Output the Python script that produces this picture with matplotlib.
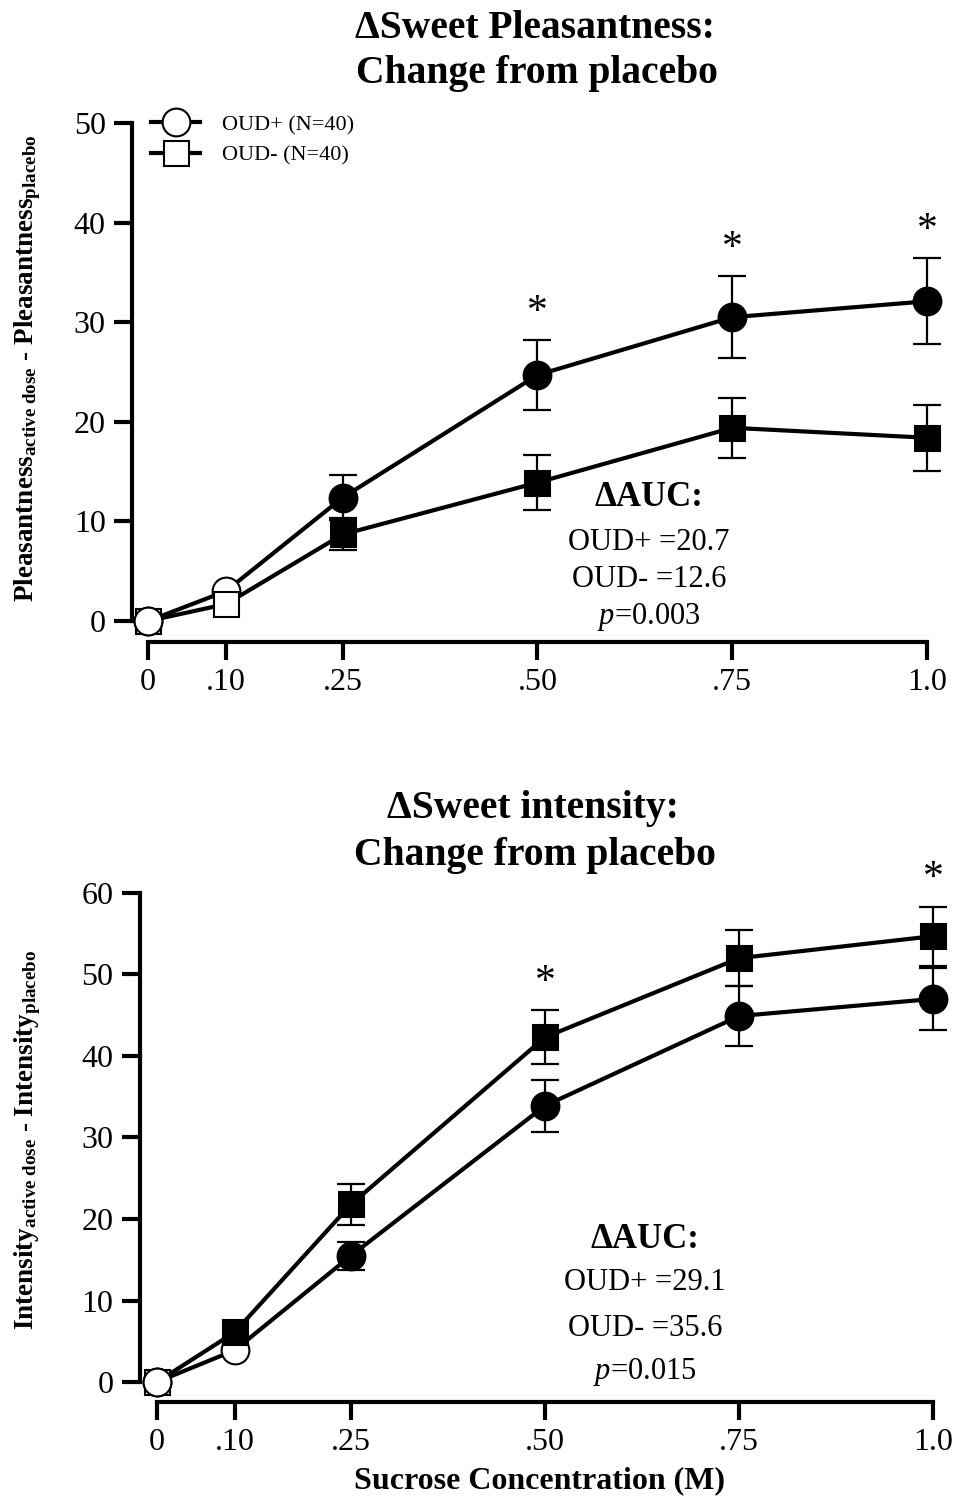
import numpy as np
import matplotlib
matplotlib.use("Agg")
from matplotlib import pyplot as plt
from matplotlib.lines import Line2D

plt.rcParams['font.family'] = ['Liberation Serif', 'DejaVu Serif']
plt.rcParams['mathtext.fontset'] = 'custom'
plt.rcParams['mathtext.rm'] = 'Liberation Serif'
plt.rcParams['mathtext.bf'] = 'Liberation Serif:bold'
plt.rcParams['mathtext.it'] = 'Liberation Serif:italic'

### DATA

conc = [0, 0.10, 0.25, 0.50, 0.75, 1.0]
conc_labels = ['0', '.10', '.25', '.50', '.75', '1.0']

# Sweet pleasantness (change from placebo)
pleas_pos = [0, 3.0, 12.4, 24.7, 30.5, 32.1]
pleas_pos_err = [0, 0, 2.3, 3.5, 4.1, 4.3]
pleas_pos_open = 2      # first points drawn as open symbols
pleas_neg = [0, 1.7, 8.7, 13.9, 19.4, 18.4]
pleas_neg_err = [0, 0, 1.6, 2.8, 3.0, 3.3]
pleas_neg_open = 2
pleas_star = [0.50, 0.75, 1.0]
pleas_auc = ['20.7', '12.6', '0.003']

# Sweet intensity (change from placebo)
inten_pos = [0, 3.9, 15.5, 33.9, 44.9, 47.0]
inten_pos_err = [0, 0, 1.7, 3.2, 3.7, 3.8]
inten_pos_open = 2
inten_neg = [0, 6.1, 21.8, 42.3, 52.0, 54.7]
inten_neg_err = [0, 0, 2.5, 3.3, 3.4, 3.6]
inten_neg_open = 1
inten_star = [0.50, 1.0]
inten_auc = ['29.1', '35.6', '0.015']


def draw_group(ax, y, err, n_open, marker, ms, z):
    x = np.array(conc)
    y = np.array(y)
    err = np.array(err)
    has = err > 0   # no bars where the error is too small to show
    ax.errorbar(x[has], y[has], yerr=err[has], fmt='none', ecolor='black', elinewidth=1.6,
                capsize=10, capthick=1.6, zorder=z)
    ax.plot(x, y, '-', color='black', lw=3, zorder=z + 0.1)
    ax.plot(x[:n_open], y[:n_open], marker, ms=ms, mfc='white', mec='black',
            mew=1.5, ls='none', zorder=z + 0.2)
    ax.plot(x[n_open:], y[n_open:], marker, ms=ms, mfc='black', mec='black',
            mew=1.5, ls='none', zorder=z + 0.2)


def draw_panel(ax, pos, pos_err, pos_open, neg, neg_err, neg_open, ymax, ystep,
               stars, star_series, star_err):
    draw_group(ax, neg, neg_err, neg_open, 's', 18, 3)
    draw_group(ax, pos, pos_err, pos_open, 'o', 20, 2)
    # circle at origin lies over the square
    ax.plot(conc[0], pos[0], 'o', ms=20, mfc='white', mec='black', mew=1.5, zorder=6)

    for s in stars:
        i = conc.index(s)
        ax.annotate('*', (s, star_series[i] + star_err[i]), xytext=(0, 20),
                    textcoords='offset points', ha='center', va='center', fontsize=30)

    for side in ['top', 'right']:
        ax.spines[side].set_visible(False)
    for side in ['left', 'bottom']:
        ax.spines[side].set_linewidth(3)
    ax.spines['left'].set_bounds(0, ymax)
    ax.spines['bottom'].set_bounds(0, 1.0)
    ax.set_yticks(np.arange(0, ymax + 1, ystep))
    ax.set_xticks(conc)
    ax.set_xticklabels(conc_labels)
    ax.tick_params(width=3, length=13, labelsize=23, pad=6)


fig = plt.figure(figsize=(9.56, 15.07), dpi=100)

### PLEASANTNESS

ax1 = fig.add_axes([0.1381, 0.5740, 0.8556, 0.3530])
draw_panel(ax1, pleas_pos, pleas_pos_err, pleas_pos_open,
           pleas_neg, pleas_neg_err, pleas_neg_open, 50, 10,
           pleas_star, pleas_pos, pleas_pos_err)
ax1.set_xlim(-0.0205, 1.0295)
ax1.set_ylim(-2.1, 51.3)
fig.text(28 / 956, 1 - 368 / 1507,
         r'Pleasantness$_{\mathbf{active\ dose}}$ - Pleasantness$_{\mathbf{placebo}}$',
         rotation=90, ha='center', va='center', fontsize=19.5, fontweight='bold')

handles = [Line2D([], [], color='black', lw=3, marker='o', ms=20, mfc='white', mec='black', mew=1.5),
           Line2D([], [], color='black', lw=3, marker='s', ms=18, mfc='white', mec='black', mew=1.5)]
ax1.legend(handles, ['OUD+ (N=40)', 'OUD- (N=40)'], loc='center left',
           bbox_to_anchor=(140 / 956, 1 - 140 / 1507), bbox_transform=fig.transFigure,
           frameon=False, fontsize=16, handlelength=2.2, labelspacing=0.45,
           handletextpad=1.0, borderpad=0)

fig.text(535 / 956, 1 - 28 / 1507, 'ΔSweet Pleasantness:', ha='center', va='center',
         fontsize=28.5, fontweight='bold')
fig.text(537 / 956, 1 - 73 / 1507, 'Change from placebo', ha='center', va='center',
         fontsize=28.5, fontweight='bold')

fig.text(649 / 956, 1 - 497 / 1507, 'ΔAUC:', ha='center', va='center', fontsize=25, fontweight='bold')
fig.text(649 / 956, 1 - 543 / 1507, 'OUD+ =' + pleas_auc[0], ha='center', va='center', fontsize=22)
fig.text(649 / 956, 1 - 580 / 1507, 'OUD- =' + pleas_auc[1], ha='center', va='center', fontsize=22)
fig.text(649 / 956, 1 - 617 / 1507, '$p$=' + pleas_auc[2], ha='center', va='center', fontsize=22)

### INTENSITY

ax2 = fig.add_axes([0.1464, 0.06967, 0.8525, 0.3597])
draw_panel(ax2, inten_pos, inten_pos_err, inten_pos_open,
           inten_neg, inten_neg_err, inten_neg_open, 60, 10,
           inten_star, inten_neg, inten_neg_err)
ax2.set_xlim(-0.0219, 1.028)
ax2.set_ylim(-2.45, 64.05)
fig.text(28 / 956, 1 - 1140 / 1507,
         r'Intensity$_{\mathbf{active\ dose}}$ - Intensity$_{\mathbf{placebo}}$',
         rotation=90, ha='center', va='center', fontsize=19.5, fontweight='bold')
fig.text(540 / 956, 1 - 1481 / 1507, 'Sucrose Concentration (M)', ha='center', va='center',
         fontsize=23, fontweight='bold')

fig.text(533 / 956, 1 - 808 / 1507, 'ΔSweet intensity:', ha='center', va='center',
         fontsize=28.5, fontweight='bold')
fig.text(535 / 956, 1 - 855 / 1507, 'Change from placebo', ha='center', va='center',
         fontsize=28.5, fontweight='bold')

fig.text(645 / 956, 1 - 1240 / 1507, 'ΔAUC:', ha='center', va='center', fontsize=25, fontweight='bold')
fig.text(645 / 956, 1 - 1283 / 1507, 'OUD+ =' + inten_auc[0], ha='center', va='center', fontsize=22)
fig.text(645 / 956, 1 - 1328 / 1507, 'OUD- =' + inten_auc[1], ha='center', va='center', fontsize=22)
fig.text(645 / 956, 1 - 1372 / 1507, '$p$=' + inten_auc[2], ha='center', va='center', fontsize=22)

fig.savefig('out.png', dpi=100)
